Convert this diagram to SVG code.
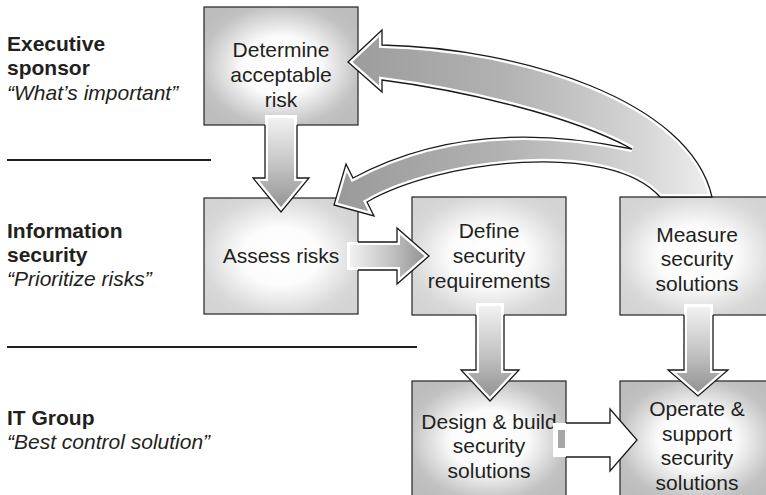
<svg xmlns="http://www.w3.org/2000/svg" width="766" height="495" viewBox="0 0 766 495">
  <style>
    .box { stroke: #222; stroke-width: 1.2; }
    .dark { fill: url(#glowDark); }
    .light { fill: url(#glowLight); }
    .lbl { font-family: "Liberation Sans", Arial, sans-serif; font-size: 21px; fill: #231f20; }
    .mid { text-anchor: middle; }
    .b { font-weight: bold; }
    .i { font-style: italic; }
    .rule { stroke: #231f20; stroke-width: 2; }
    .band { stroke: #fff; stroke-width: 6; stroke-linejoin: miter; }
    .edge { fill: none; stroke: #1a1a1a; stroke-width: 1.3; stroke-linejoin: miter; }
  </style>
  <defs>
    <radialGradient id="glowDark" cx="0.5" cy="0.5" r="0.6">
      <stop offset="0" stop-color="#ffffff"/>
      <stop offset="0.42" stop-color="#fbfbfb"/>
      <stop offset="0.85" stop-color="#c2c2c2"/>
      <stop offset="1" stop-color="#bdbdbd"/>
    </radialGradient>
    <radialGradient id="glowLight" cx="0.5" cy="0.5" r="0.6">
      <stop offset="0" stop-color="#ffffff"/>
      <stop offset="0.42" stop-color="#fcfcfc"/>
      <stop offset="0.85" stop-color="#d8d8d8"/>
      <stop offset="1" stop-color="#d4d4d4"/>
    </radialGradient>
    <linearGradient id="gV" x1="0" y1="0" x2="0" y2="1">
      <stop offset="0" stop-color="#f4f4f4"/>
      <stop offset="0.5" stop-color="#c6c6c6"/>
      <stop offset="1" stop-color="#8e8e8e"/>
    </linearGradient>
    <linearGradient id="gH" x1="0" y1="0" x2="1" y2="0">
      <stop offset="0" stop-color="#f4f4f4"/>
      <stop offset="0.5" stop-color="#c6c6c6"/>
      <stop offset="1" stop-color="#8e8e8e"/>
    </linearGradient>
    <linearGradient id="gC" gradientUnits="userSpaceOnUse" x1="335" y1="0" x2="712" y2="0">
      <stop offset="0" stop-color="#9a9a9a"/>
      <stop offset="0.45" stop-color="#b2b2b2"/>
      <stop offset="0.8" stop-color="#d4d4d4"/>
      <stop offset="1" stop-color="#eeeeee"/>
    </linearGradient>

    <!-- arrow outlines -->
    <path id="a1" d="M265,115 H297 V178 H309 L281,212 L253,178 H265 Z"/>
    <path id="a2" d="M347,242 H397 V228 L429,256 L397,284 V270 H347 Z"/>
    <path id="a3" d="M476,303 H504 V370 H519 L490,401 L461,370 H476 Z"/>
    <path id="a4" d="M684,304 H713 V370 H728 L698,396 L668,370 H684 Z"/>
    <path id="a5" d="M566,423 H610 V409 L637,440 L610,471 V457 H566 Z"/>
    <path id="cv" d="M348,62 L382,30 L382,45 C520,48 690,100 712,197 L660,197 C610,140 440,160 367,202 L374,216 L334,205 L346,164 L353,178 Q470,115 632,149 C570,115 460,90 382,80 L382,92 Z"/>

    <clipPath id="c1"><use href="#a1"/></clipPath>
    <clipPath id="c2"><use href="#a2"/></clipPath>
    <clipPath id="c3"><use href="#a3"/></clipPath>
    <clipPath id="c4"><use href="#a4"/></clipPath>
    <clipPath id="cc"><use href="#cv"/></clipPath>
  </defs>

  <rect width="766" height="495" fill="#ffffff"/>

  <!-- row labels -->
  <g id="lane-labels" class="lbl">
    <text x="7" y="51" class="b">Executive</text>
    <text x="7" y="75" class="b">sponsor</text>
    <text x="7" y="100" class="i">“What’s important”</text>
    <text x="7" y="238" class="b">Information</text>
    <text x="7" y="262" class="b">security</text>
    <text x="7" y="286" class="i">“Prioritize risks”</text>
    <text x="7" y="425" class="b">IT Group</text>
    <text x="7" y="449" class="i">“Best control solution”</text>
  </g>
  <g id="lane-rules">
    <line x1="7" y1="160" x2="211" y2="160" class="rule"/>
    <line x1="7" y1="347" x2="417" y2="347" class="rule"/>
  </g>

  <!-- process steps -->
  <g id="determine-risk">
    <rect x="204" y="7" width="154" height="118" class="box dark"/>
    <text class="lbl mid" x="281" y="57">Determine</text>
    <text class="lbl mid" x="281" y="82">acceptable</text>
    <text class="lbl mid" x="281" y="107">risk</text>
  </g>
  <g id="assess-risks">
    <rect x="204" y="198" width="154" height="116" class="box light"/>
    <text class="lbl mid" x="281" y="263">Assess risks</text>
  </g>
  <g id="define-requirements">
    <rect x="412" y="197" width="154" height="118" class="box light"/>
    <text class="lbl mid" x="489" y="238">Define</text>
    <text class="lbl mid" x="489" y="263">security</text>
    <text class="lbl mid" x="489" y="288">requirements</text>
  </g>
  <g id="measure-solutions">
    <rect x="620" y="197" width="154" height="118" class="box light"/>
    <text class="lbl mid" x="697" y="242">Measure</text>
    <text class="lbl mid" x="697" y="266">security</text>
    <text class="lbl mid" x="697" y="291">solutions</text>
  </g>
  <g id="design-build">
    <rect x="412" y="381" width="154" height="118" class="box dark"/>
    <text class="lbl mid" x="489" y="429">Design &amp; build</text>
    <text class="lbl mid" x="489" y="453">security</text>
    <text class="lbl mid" x="489" y="478">solutions</text>
  </g>
  <g id="operate-support">
    <rect x="620" y="381" width="154" height="118" class="box dark"/>
    <text class="lbl mid" x="697" y="416">Operate &amp;</text>
    <text class="lbl mid" x="697" y="441">support</text>
    <text class="lbl mid" x="697" y="465">security</text>
    <text class="lbl mid" x="697" y="490">solutions</text>
  </g>

  <!-- block arrows -->
  <g id="connectors">
    <!-- feedback from measurement to the two upper steps -->
    <use href="#cv" clip-path="url(#cc)" fill="url(#gC)" class="band"/>
    <use href="#cv" class="edge"/>

    <use href="#a1" clip-path="url(#c1)" fill="url(#gV)" class="band"/>
    <path class="edge" d="M265,125 V178 H253 L281,212 L309,178 H297 V125"/>

    <use href="#a2" clip-path="url(#c2)" fill="url(#gH)" class="band"/>
    <path class="edge" d="M358,242 H397 V228 L429,256 L397,284 V270 H358"/>

    <use href="#a3" clip-path="url(#c3)" fill="url(#gV)" class="band"/>
    <path class="edge" d="M476,315 V370 H461 L490,401 L519,370 H504 V315"/>

    <use href="#a4" clip-path="url(#c4)" fill="url(#gV)" class="band"/>
    <path class="edge" d="M684,315 V370 H668 L698,396 L728,370 H713 V315"/>

    <rect x="553" y="423" width="13" height="34" fill="#ffffff"/>
    <rect x="558" y="430" width="7" height="18" fill="#a6a6a6"/>
    <use href="#a5" fill="#ffffff"/>
    <path class="edge" d="M566,423 H610 V409 L637,440 L610,471 V457 H566"/>
  </g>
</svg>
